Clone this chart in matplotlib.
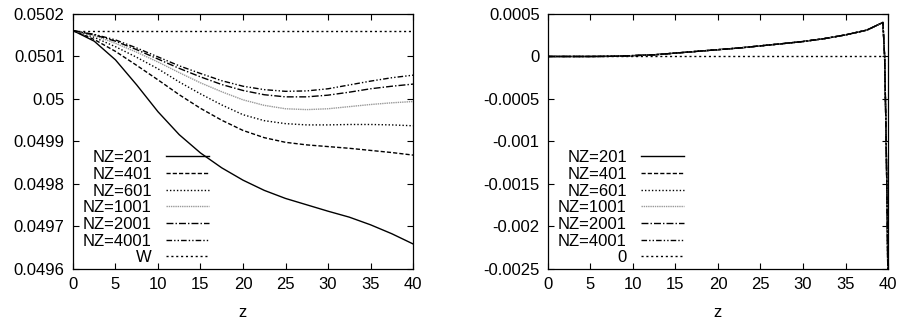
import matplotlib
matplotlib.use("Agg")
import matplotlib.pyplot as plt

z = [0, 2.5, 5, 7.5, 10, 12.5, 15, 17.5, 20, 22.5, 25, 27.5, 30, 32.5, 35, 37.5, 40]

nz201 = [0.050161, 0.050136, 0.050092, 0.050033, 0.049970, 0.049916, 0.049873,
         0.049838, 0.049809, 0.049785, 0.049766, 0.049751, 0.049736, 0.049722,
         0.049704, 0.049683, 0.049659]
nz401 = [0.050161, 0.050140, 0.050112, 0.050079, 0.050045, 0.050010, 0.049978,
         0.049950, 0.049926, 0.049909, 0.049898, 0.049892, 0.049888, 0.049884,
         0.049879, 0.049874, 0.049868]
nz601 = [0.050161, 0.050145, 0.050123, 0.050098, 0.050071, 0.050040, 0.050012,
         0.049986, 0.049963, 0.049949, 0.049942, 0.049939, 0.049939, 0.049940,
         0.049940, 0.049939, 0.049937]
nz1001 = [0.050161, 0.050149, 0.050131, 0.050110, 0.050087, 0.050062, 0.050038,
          0.050017, 0.049998, 0.049985, 0.049977, 0.049975, 0.049977, 0.049982,
          0.049987, 0.049991, 0.049994]
nz2001 = [0.050161, 0.050151, 0.050136, 0.050116, 0.050094, 0.050072, 0.050052,
          0.050034, 0.050020, 0.050010, 0.050005, 0.050005, 0.050009, 0.050016,
          0.050024, 0.050030, 0.050035]
nz4001 = [0.050161, 0.050152, 0.050139, 0.050120, 0.050099, 0.050078, 0.050060,
          0.050043, 0.050030, 0.050022, 0.050018, 0.050019, 0.050024, 0.050033,
          0.050042, 0.050050, 0.050056]
w_value = 0.050161

# right panel: all NZ curves lie on top of each other
z_err = [0, 2.5, 5, 7.5, 10, 12.5, 15, 17.5, 20, 22.5, 25, 27.5, 30, 32.5, 35,
         37.5, 39.4, 39.6, 39.75, 39.9, 40]
err = [0, 0, 0, 0.000002, 0.00001, 0.00002, 0.00004, 0.00006, 0.00008, 0.0001,
       0.000125, 0.00015, 0.000176, 0.00021, 0.000254, 0.00031, 0.0004, 0.0,
       -0.0008, -0.0018, -0.0028]

labels = ["NZ=201", "NZ=401", "NZ=601", "NZ=1001", "NZ=2001", "NZ=4001"]
xticks = [0, 5, 10, 15, 20, 25, 30, 35, 40]
yticks_left = [0.0496, 0.0497, 0.0498, 0.0499, 0.05, 0.0501, 0.0502]
yticks_right = [-0.0025, -0.002, -0.0015, -0.001, -0.0005, 0, 0.0005]

styles = [
    dict(color="black", linestyle="-"),
    dict(color="black", linestyle=(0, (3, 1.5))),
    dict(color="black", linestyle=(0, (1, 1.5))),
    dict(color="#999999", linestyle=(0, (1, 0.6))),
    dict(color="black", linestyle=(0, (5, 1.5, 1, 1.5))),
    dict(color="black", linestyle=(0, (4, 1.5, 1, 1.5, 1, 1.5))),
    dict(color="black", linestyle=(0, (1.5, 2))),
]


def style_axes(ax, yticks):
    ax.set_xlim(0, 40)
    ax.set_xticks(xticks)
    ax.set_xticklabels(["%g" % t for t in xticks])
    ax.set_ylim(yticks[0], yticks[-1])
    ax.set_yticks(yticks)
    ax.set_yticklabels(["%g" % t for t in yticks])
    ax.tick_params(direction="in", top=True, right=True, length=4, width=0.8,
                   labelsize=12, pad=6)
    ax.set_xlabel("z", fontsize=12, labelpad=9)
    for s in ax.spines.values():
        s.set_linewidth(0.9)


def gnuplot_legend(ax, anchor):
    leg = ax.legend(loc="lower right", bbox_to_anchor=anchor, frameon=False,
                    markerfirst=False, fontsize=12, handlelength=2.58,
                    handletextpad=0.84, labelspacing=0.1, borderpad=0,
                    borderaxespad=0)
    # right-align labels like gnuplot does
    for col in leg._legend_box._children[-1]._children:
        col.align = "right"
    return leg


def main():
    plt.rcParams["font.family"] = ["Liberation Sans", "DejaVu Sans"]
    fig = plt.figure(figsize=(9.02, 3.22), dpi=100)
    ax1 = fig.add_axes([0.0809, 0.1646, 0.377, 0.792])
    ax2 = fig.add_axes([0.6075, 0.1646, 0.377, 0.792])

    series = [nz201, nz401, nz601, nz1001, nz2001, nz4001]
    for vals, lab, st in zip(series, labels, styles):
        ax1.plot(z, vals, lw=1.0, label=lab, **st)
    ax1.plot([z[0], z[-1]], [w_value, w_value], lw=1.0, label="W", **styles[6])
    style_axes(ax1, yticks_left)
    gnuplot_legend(ax1, (0.40, 0.015))

    for lab, st in zip(labels, styles):
        ax2.plot(z_err, err, lw=1.0, label=lab, **st)
    ax2.plot([z[0], z[-1]], [0, 0], lw=1.0, label="0", **styles[6])
    style_axes(ax2, yticks_right)
    gnuplot_legend(ax2, (0.40, 0.015))

    fig.savefig("out.png", dpi=100)


if __name__ == "__main__":
    main()
